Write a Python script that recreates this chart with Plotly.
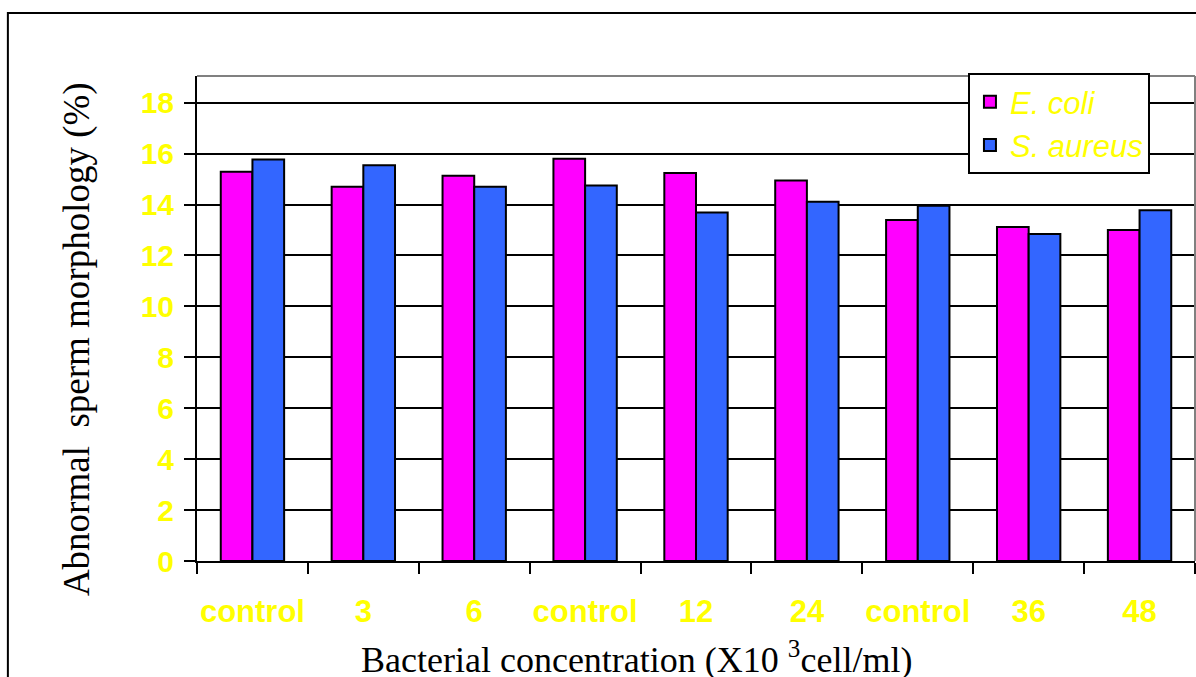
import plotly.graph_objects as go

# Bacterial concentration groups (X10^3 cell/ml)
categories = ["control", "3", "6", "control", "12", "24", "control", "36", "48"]
e_coli = [15.29, 14.70, 15.13, 15.80, 15.24, 14.95, 13.39, 13.12, 13.00]
s_aureus = [15.77, 15.54, 14.70, 14.75, 13.69, 14.11, 13.95, 12.84, 13.78]
y_ticks = [0, 2, 4, 6, 8, 10, 12, 14, 16, 18]

positions = list(range(len(categories)))
boundaries = [p - 0.5 for p in positions] + [positions[-1] + 0.5]

YELLOW = "#FFFF00"
SERIF = "Times New Roman, Liberation Serif"
fig = go.Figure()
fig.add_trace(go.Bar(x=positions, y=e_coli, name="<i>E. coli</i>",
                     marker=dict(color="#FF00FF", line=dict(color="black", width=2))))
fig.add_trace(go.Bar(x=positions, y=s_aureus, name="<i>S. aureus</i>",
                     marker=dict(color="#3366FF", line=dict(color="black", width=2))))

fig.update_layout(
    width=1196, height=677,
    margin=dict(l=197, r=1, t=76, b=116),
    paper_bgcolor="white", plot_bgcolor="white",
    barmode="group", bargap=0.4286, bargroupgap=0,
    showlegend=True,
    legend=dict(x=0.7725, y=1.006, xanchor="left", yanchor="top",
                bgcolor="white", bordercolor="black", borderwidth=2,
                font=dict(family="Arial", size=31, color=YELLOW)),
    xaxis=dict(
        range=[-0.5, len(categories) - 0.5],
        tickvals=positions, ticktext=categories,
        ticks="", showgrid=False, zeroline=False,
        showline=True, linecolor="black", linewidth=2,
        tickfont=dict(family="Arial", size=31, color=YELLOW, weight="bold"),
        ticklabelstandoff=22,
        minor=dict(tickvals=boundaries, ticks="outside", ticklen=11,
                   tickwidth=2, tickcolor="black", showgrid=False),
    ),
    yaxis=dict(
        range=[0, 19.05], tickvals=y_ticks,
        ticks="outside", ticklen=11, tickwidth=2, tickcolor="black",
        showgrid=True, gridcolor="black", gridwidth=2, zeroline=False,
        showline=True, linecolor="black", linewidth=2,
        tickfont=dict(family="Arial", size=30, color=YELLOW, weight="bold"),
        ticklabelstandoff=4,
    ),
    annotations=[
        dict(text="Abnormal  sperm morphology (%)", textangle=-90,
             xref="paper", yref="paper", x=-0.12, y=0.458,
             xanchor="center", yanchor="middle", showarrow=False,
             font=dict(family=SERIF, size=37, color="black")),
        dict(text="Bacterial concentration (X10 <sup>3</sup>cell/ml)",
             xref="paper", yref="paper", x=0.44, y=-0.199,
             xanchor="center", yanchor="middle", showarrow=False,
             font=dict(family=SERIF, size=36, color="black")),
    ],
    shapes=[
        # outer frame around the whole chart
        dict(type="rect", xref="paper", yref="paper",
             x0=-0.1895, y0=-0.35, x1=1.05, y1=1.1298,
             line=dict(color="black", width=2), layer="below"),
        # light top and right edges of the plotting area
        dict(type="line", xref="paper", yref="paper", x0=0, x1=1, y0=1, y1=1,
             line=dict(color="#808080", width=2)),
        dict(type="line", xref="paper", yref="paper", x0=1, x1=1, y0=0, y1=1,
             line=dict(color="#808080", width=2)),
    ],
)

fig.write_html("out.html")
